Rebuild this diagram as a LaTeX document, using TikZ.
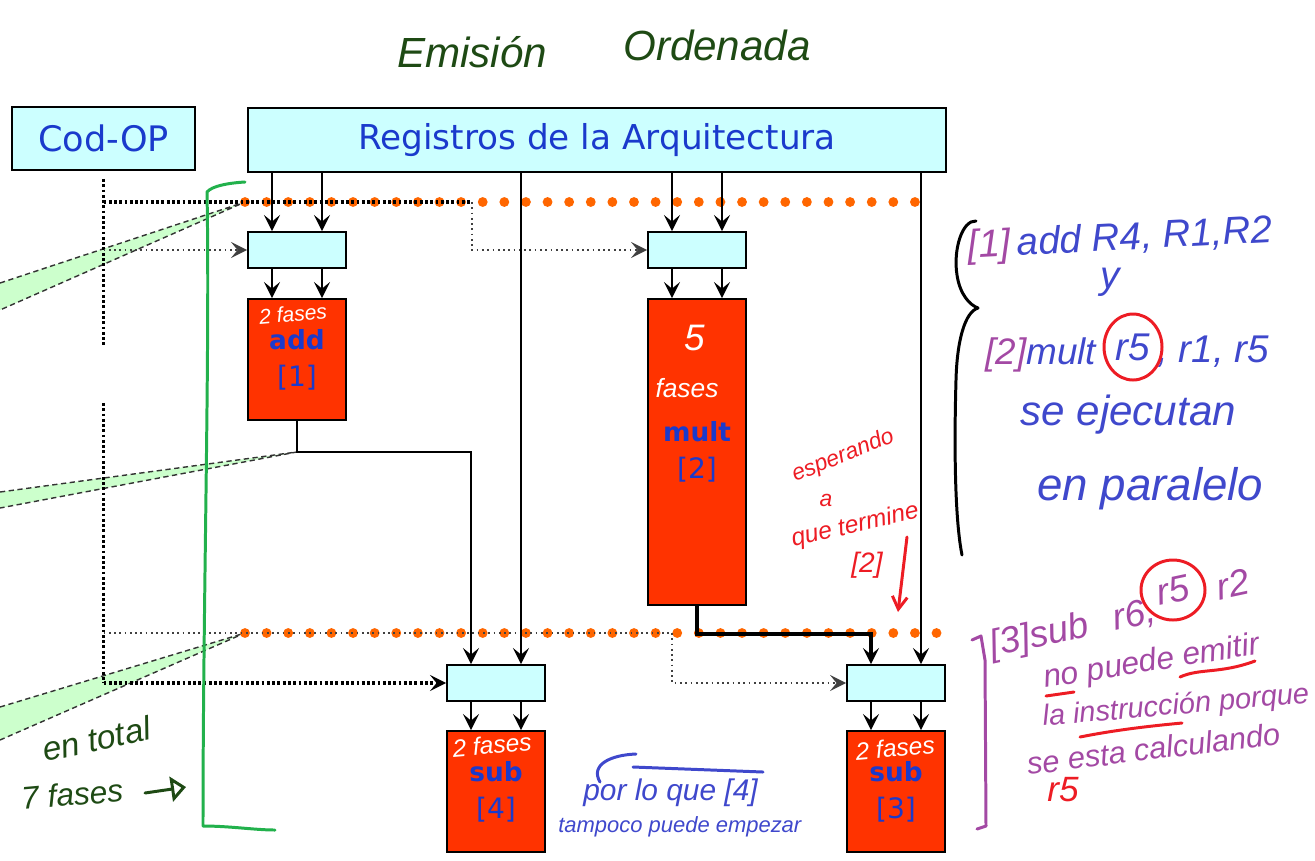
\documentclass[tikz,border=0pt]{standalone}
\usepackage{fontspec}
\setmainfont{DejaVu Sans}
\newfontfamily\handfont{Liberation Sans}
\usetikzlibrary{arrows.meta,calc,positioning}

\definecolor{latchcyan}{HTML}{CCFFFF}
\definecolor{unitred}{HTML}{FF3300}
\definecolor{opblue}{HTML}{1A3ACC}
\definecolor{dotorange}{HTML}{FF6600}
\definecolor{wedgegreen}{HTML}{CCFFCC}
\definecolor{penblue}{HTML}{3F48CC}
\definecolor{penpurple}{HTML}{A349A4}
\definecolor{penred}{HTML}{ED1C24}
\definecolor{pendark}{HTML}{1E4A14}
\definecolor{pengreen}{HTML}{22B14C}

\tikzset{
    hand/.style={font=\handfont\itshape\fontsize{#1}{#1}\selectfont, inner sep=0pt},
    hand/.default=18,
    headed/.style={-{Stealth[length=3.2mm,width=3.2mm,inset=1.3mm]}},
    flow/.style={line width=1.3pt, headed},
    pen/.style={line width=1.7pt, line cap=round, line join=round},
    ctl/.style={line width=1.8pt, dash pattern=on 1.6pt off 1.4pt},
    ctlthin/.style={line width=1pt, black!75, dash pattern=on 1pt off 2pt},
    dotline/.style={dotorange, line width=5.6pt, line cap=round, dash pattern=on 0pt off 12.3pt},
    wedge/.style={fill=wedgegreen, draw=black!80, line width=0.8pt, densely dashed}
}

\begin{document}
\begin{tikzpicture}[x=0.02cm, y=-0.02cm]
        \useasboundingbox (0,0) rectangle (1315,860);

        \node[hand=24, text=pendark] (tit1) at (472,52) {Emisión};
        \node[hand=24, text=pendark] (tit2) at (717,45) {Ordenada};

        \begin{scope}[every node/.style={draw, line width=1.1pt, fill=latchcyan, text=opblue}]
            \node[minimum width=3.66cm, minimum height=1.26cm, font=\fontsize{20}{24}\selectfont] (cod) at (103.5,138.5) {Cod-OP};
            \node[minimum width=13.96cm, minimum height=1.28cm, font=\fontsize{19.5}{22}\selectfont] (reg) at (597,140) {Registros de la Arquitectura};

            \node[minimum width=1.96cm, minimum height=0.72cm] (la1) at (297,250) {};
            \node[minimum width=1.96cm, minimum height=0.72cm] (la2) at (697,250) {};
            \node[minimum width=1.96cm, minimum height=0.72cm] (la4) at (496,683) {};
            \node[minimum width=1.96cm, minimum height=0.72cm] (la3) at (896,683) {};
        \end{scope}

        \begin{scope}[every node/.style={draw, line width=1.1pt, fill=unitred, text=opblue, minimum width=1.96cm, align=center, font=\fontsize{15}{21}\selectfont}]
            \node[minimum height=2.42cm] (add) at (297,359.5) {\textbf{add}\\{\fontsize{16}{21}\selectfont[1]}};
            \node[minimum height=6.12cm] (mult) at (697,452) {\textbf{mult}\\{\fontsize{16}{21}\selectfont[2]}};
            \node[minimum height=2.42cm] (sub4) at (496,791.5) {\textbf{sub}\\{\fontsize{16}{21}\selectfont[4]}};
            \node[minimum height=2.42cm] (sub3) at (896,791.5) {\textbf{sub}\\{\fontsize{16}{21}\selectfont[3]}};
        \end{scope}

        \coordinate (o1) at (245,202);
        \coordinate (o2) at (245,633);
        \coordinate (w2) at ($(add.south)+(0,31)$);
        \coordinate (sw1) at (472,202);
        \coordinate (sw2) at (672,633);

        \coordinate (i1a) at ($(la1.north)+(-25,0)$);
        \coordinate (i1b) at ($(la1.north)+(25,0)$);
        \coordinate (i2a) at ($(la2.north)+(-25,0)$);
        \coordinate (i2b) at ($(la2.north)+(25,0)$);
        \coordinate (i4a) at ($(la4.north)+(-25,0)$);
        \coordinate (i4b) at ($(la4.north)+(25,0)$);
        \coordinate (i3a) at ($(la3.north)+(-25,0)$);
        \coordinate (i3b) at ($(la3.north)+(25,0)$);

        \path[wedge] (0,283) -- (o1) -- (0,310);
        \path[wedge] (0,492) -- (w2) -- (0,508);
        \path[wedge] (0,707) -- (o2) -- (0,740);

        \draw[dotline] (o1) -- (o1 -| i3b);
        \draw[dotline] (o2) -- (o2 -| la3.east);

        \draw[ctl] ($(cod.south)+(0,8)$) -- ($(cod.south)+(0,175)$);
        \draw[ctl] ($(cod.south)+(0,232)$) -- (la4.west -| cod.south);
        \draw[ctl] (sw1 -| cod.south) -- (sw1);
        \draw[ctlthin, headed] (sw1) |- (la2.west);
        \draw[ctlthin, headed] (la1.west -| cod.south) -- (la1.west);
        \draw[ctlthin] (sw2 -| cod.south) -- (sw2);
        \draw[ctlthin, headed] (sw2) |- (la3.west);
        \draw[ctl, headed] (la4.west -| cod.south) -- (la4.west);

        \begin{scope}[every edge/.style={draw, line width=1.3pt}]
            \path[headed] (i1a |- reg.south) edge (i1a);
            \path[headed] (i1b |- reg.south) edge (i1b);
            \path[headed] (i2a |- reg.south) edge (i2a);
            \path[headed] (i2b |- reg.south) edge (i2b);
            \path[headed] (i4b |- reg.south) edge (i4b);
            \path[headed] (i3b |- reg.south) edge (i3b);

            \path[headed] (i1a |- la1.south) edge (i1a |- add.north);
            \path[headed] (i1b |- la1.south) edge (i1b |- add.north);
            \path[headed] (i2a |- la2.south) edge (i2a |- mult.north);
            \path[headed] (i2b |- la2.south) edge (i2b |- mult.north);
            \path[headed] (i4a |- la4.south) edge (i4a |- sub4.north);
            \path[headed] (i4b |- la4.south) edge (i4b |- sub4.north);
            \path[headed] (i3a |- la3.south) edge (i3a |- sub3.north);
            \path[headed] (i3b |- la3.south) edge (i3b |- sub3.north);
        \end{scope}
        \draw[flow] (add.south) -- (w2) -| (i4a);
        \draw[flow, line width=2.3pt] (mult.south) -- ($(mult.south)+(0,28)$) -| (i3a);

        \node[hand=12, text=white, rotate=5] (f1) at (293,314) {2 fases};
        \node[hand=21, text=white] (f2a) at (695,338) {5};
        \node[hand=15, text=white] (f2b) at (687,388) {fases};
        \node[hand=14, text=white, rotate=5] (f4) at (492,745) {2 fases};
        \node[hand=14, text=white, rotate=5] (f3) at (895,748) {2 fases};

        \draw[pen, pengreen] (245,182) .. controls (228,183) and (212,186) .. (207,192) .. controls (210,350) and (203,600) .. (203,826) .. controls (230,826) and (255,830) .. (275,830);
        \node[hand=19, text=pendark, rotate=12, anchor=base west] (tot1) at (45,762) {en total};
        \node[hand=18, text=pendark, rotate=5, anchor=base west] (tot2) at (22,810) {7 fases};
        \coordinate (ta) at (145,793);
        \coordinate (tb) at (186,787);
        \draw[pen, pendark, -{Triangle[open,length=3mm,width=5mm]}] (ta) -- (tb);

        \draw[pen] (976,221) .. controls (962,220) and (953,250) .. (957,275) .. controls (960,295) and (970,305) .. (978,308) .. controls (965,312) and (957,340) .. (956,380) .. controls (954,450) and (955,520) .. (962,555);
        \node[hand=22, text=penblue, rotate=3, anchor=base west] (ins1) at (968,258) {\textcolor{penpurple}{[1]}\,add R4, R1,R2};
        \node[hand=22, text=penblue] (conj) at (1110,282) {y};
        \node[hand=21, text=penblue, anchor=base west] (ins2a) at (985,364) {\textcolor{penpurple}{[2]}mult};
        \node[hand=22, text=penblue] (r5a) at (1133,347) {r5};
        \node[hand=22, text=penblue, anchor=base west] (ins2b) at (1157,362) {, r1, r5};
        \draw[pen, penred] (r5a) ellipse [x radius=29, y radius=33];
        \node[hand=24, text=penblue, anchor=base west] (par1) at (1020,425) {se ejecutan};
        \node[hand=26, text=penblue, anchor=base west] (par2) at (1037,500) {en paralelo};

        \draw[pen, penpurple] (972,640) -- (981,636) -- (985,660) -- (986,826) -- (977,829);
        \node[hand=21, text=penpurple, rotate=12, anchor=base west] (ins3a) at (992,657) {[3]sub\hspace{0.7em}r6,};
        \node[hand=21, text=penpurple, rotate=12] (r5b) at (1173,590) {r5};
        \node[hand=21, text=penpurple, rotate=12] (ins3b) at (1233,584) {r2};
        \draw[pen, penred] (r5b) ellipse [x radius=32, y radius=30];
        \node[hand=18, text=penpurple, rotate=9, anchor=base west] (why1) at (1045,688) {no puede emitir};
        \node[hand=16.5, text=penpurple, rotate=5, anchor=base west] (why2) at (1043,726) {la instrucción porque};
        \node[hand=17.5, text=penpurple, rotate=7, anchor=base west] (why3) at (1028,775) {se esta calculando};
        \node[hand=20, text=penred, anchor=base west] (why4) at (1047,801) {r5};
        \draw[pen, penred] (1046,696) -- (1074,692);
        \draw[pen, penred] (1180,677) .. controls (1200,668) and (1220,674) .. (1255,661);
        \draw[pen, penred] (1080,737) .. controls (1115,730) and (1150,726) .. (1182,723);

        \node[hand=13, text=penred, rotate=22, anchor=base west] (wait1) at (795,482) {esperando};
        \node[hand=13, text=penred] (wait2) at (826,500) {a};
        \node[hand=14, text=penred, rotate=13, anchor=base west] (wait3) at (793,547) {que termine};
        \node[hand=16, text=penred] (wait4) at (867,565) {[2]};
        \coordinate (ra) at (907,537);
        \coordinate (rb) at (898,612);
        \draw[pen, penred, -{Straight Barb[length=2.5mm,width=3mm]}] (ra) -- (rb);

        \draw[pen, penblue] (600,782) .. controls (590,765) and (610,755) .. (636,754);
        \draw[pen, penblue] (633,767) -- (763,772);
        \node[hand=17, text=penblue, anchor=base west] (tam1) at (583,800) {por lo que [4]};
        \node[hand=12.5, text=penblue, anchor=base west] (tam2) at (558,832) {tampoco puede empezar};
\end{tikzpicture}
\end{document}
